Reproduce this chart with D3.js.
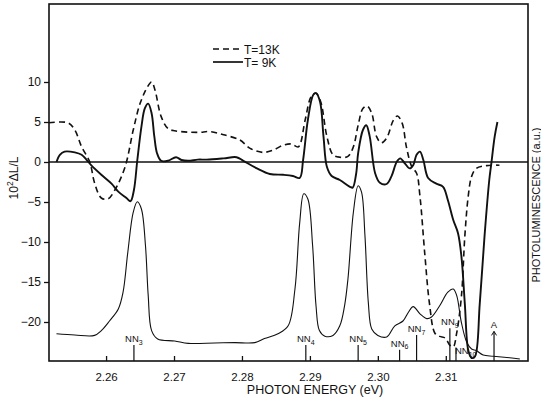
<!DOCTYPE html>
<html>
<head>
<meta charset="utf-8">
<script src="https://cdnjs.cloudflare.com/ajax/libs/d3/7.8.5/d3.min.js"></script>
<style>
  body { margin: 0; background: #fff; }
  svg { font-family: "Liberation Sans", Arial, sans-serif; }
</style>
</head>
<body>
<svg></svg>
<script>
const width = 541, height = 400;

// T = 13K modulated spectrum, [energy eV, 10^2 dL/L]
const dashed13K = [
  [2.2516, 4.9], [2.2544, 4.9], [2.2554, 4.0], [2.2564, 1.9], [2.2576, 0.0], [2.2583, -2.6],
  [2.2593, -4.5], [2.2603, -4.6], [2.2613, -3.5], [2.2628, -0.6], [2.2640, 4.0], [2.2650, 7.3],
  [2.2661, 9.4], [2.2667, 10.0], [2.2672, 9.0], [2.2681, 5.7], [2.2691, 4.2], [2.2701, 3.9],
  [2.2735, 3.7], [2.2753, 3.8], [2.2773, 3.4], [2.2797, 2.75], [2.2812, 1.7], [2.2831, 1.2],
  [2.2846, 1.5], [2.2861, 2.1], [2.2873, 2.25], [2.2883, 1.9], [2.2893, 5.25], [2.2902, 8.2],
  [2.2909, 8.6], [2.2916, 7.5], [2.2925, 3.2], [2.2934, 0.9], [2.2944, 0.6], [2.2956, 0.7],
  [2.2964, 1.9], [2.2971, 4.6], [2.2978, 6.7], [2.2984, 7.0], [2.2991, 6.1], [2.2998, 3.2],
  [2.3005, 2.4], [2.3013, 3.0], [2.3023, 5.25], [2.3029, 5.75], [2.3036, 4.8], [2.3042, 1.9],
  [2.3050, -0.6], [2.3057, -1.4], [2.3062, -4.3], [2.3069, -11.4], [2.3076, -17.7], [2.3084, -21.4],
  [2.3091, -21.8], [2.3099, -22.0], [2.3106, -22.9], [2.3111, -23.1], [2.3116, -21.4], [2.3123, -16.8],
  [2.3128, -9.3], [2.3133, -4.3], [2.3138, -1.8], [2.3145, -0.8], [2.3160, -0.45], [2.3179, -0.4]
];

// T = 9K modulated spectrum
const solid9K = [
  [2.2527, 0.0], [2.2532, 0.9], [2.2539, 1.3], [2.2554, 1.2], [2.2564, 0.9], [2.2571, 0.3],
  [2.2578, -0.4], [2.2593, -1.6], [2.2608, -2.7], [2.2618, -3.7], [2.2630, -4.5], [2.2636, -4.9],
  [2.2641, -3.5], [2.2646, 0.25], [2.2652, 4.4], [2.2657, 6.7], [2.2662, 7.3], [2.2667, 6.1],
  [2.2671, 3.2], [2.2675, 1.1], [2.2681, 0.15], [2.2691, 0.15], [2.2703, 0.6], [2.2711, 0.25],
  [2.2721, 0.15], [2.2735, 0.3], [2.2748, 0.3], [2.2773, 0.45], [2.2792, 0.6], [2.2802, 0.15],
  [2.2822, -0.8], [2.2841, -1.5], [2.2861, -1.6], [2.2875, -1.75], [2.2885, -2.0], [2.2890, 0.25],
  [2.2897, 5.25], [2.2905, 8.4], [2.2909, 8.6], [2.2915, 7.5], [2.2920, 3.2], [2.2925, -0.6],
  [2.2932, -1.75], [2.2944, -2.25], [2.2959, -3.1], [2.2963, -3.2], [2.2968, -1.5], [2.2971, 1.1],
  [2.2978, 4.0], [2.2983, 4.6], [2.2988, 3.2], [2.2996, -1.4], [2.3003, -2.6], [2.3013, -2.75],
  [2.3020, -1.8], [2.3028, 0.05], [2.3033, 0.45], [2.3040, -0.2], [2.3047, -0.8], [2.3052, -0.4],
  [2.3057, 0.9], [2.3062, 1.3], [2.3067, 0.25], [2.3074, -2.0], [2.3086, -2.7], [2.3096, -3.1],
  [2.3103, -4.75], [2.3111, -7.25], [2.3118, -8.9], [2.3123, -11.8], [2.3128, -17.7], [2.3133, -23.5],
  [2.3138, -24.5], [2.3143, -24.3], [2.3150, -17.7], [2.3157, -9.3], [2.3164, -2.25], [2.3167, -0.2],
  [2.3172, 3.2], [2.3176, 5.0]
];

// photoluminescence, arbitrary units (0 = bottom of frame)
const photolum = [
  [2.2527, 3.4], [2.2554, 3.25], [2.2583, 3.2], [2.2593, 3.8], [2.2605, 5.0], [2.2618, 6.5],
  [2.2625, 8.6], [2.2632, 13.6], [2.2640, 18.6], [2.2646, 19.9], [2.2652, 19.0], [2.2658, 14.4],
  [2.2662, 8.2], [2.2667, 3.8], [2.2676, 2.75], [2.2701, 2.5], [2.2721, 2.2], [2.2760, 2.25],
  [2.2789, 2.3], [2.2819, 2.3], [2.2833, 2.8], [2.2853, 3.4], [2.2868, 4.4], [2.2878, 9.0],
  [2.2885, 17.3], [2.2891, 20.9], [2.2897, 20.25], [2.2904, 14.4], [2.2909, 6.9], [2.2914, 3.8],
  [2.2922, 3.1], [2.2934, 3.2], [2.2944, 4.4], [2.2951, 6.9], [2.2956, 10.25], [2.2964, 18.6],
  [2.2971, 21.9], [2.2976, 21.1], [2.2981, 15.7], [2.2986, 7.3], [2.2991, 4.0], [2.3000, 3.2],
  [2.3013, 3.0], [2.3025, 4.4], [2.3037, 5.0], [2.3045, 6.1], [2.3052, 6.8], [2.3062, 5.9],
  [2.3072, 5.3], [2.3079, 5.5], [2.3091, 6.9], [2.3103, 8.6], [2.3111, 9.0], [2.3116, 8.2],
  [2.3123, 4.8], [2.3131, 2.3], [2.3138, 1.5], [2.3145, 1.3], [2.3155, 0.75], [2.3170, 0.6],
  [2.3194, 0.4], [2.3209, 0.25]
];

// phonon replica markers: label, subscript, energy, height of the stick (a.u.)
const markers = [
  ["NN", "3", 2.2641, 2.0], ["NN", "4", 2.2894, 2.0], ["NN", "5", 2.2971, 2.0],
  ["NN", "6", 2.3032, 1.4], ["NN", "7", 2.3057, 3.25], ["NN", "9", 2.3106, 4.1],
  ["NN", "10", 2.3115, 1.7], ["A", "", 2.3171, 3.7]
];

const xTicks = [2.26, 2.27, 2.28, 2.29, 2.30, 2.31];
const yTicks = [10, 5, 0, -5, -10, -15, -20];
const legendItems = [["T=13K", "6,4"], ["T= 9K", null]];

const svg = d3.select("svg").attr("width", width).attr("height", height);

const mLeft = 49, mRight = 528, mTop = 4, mBottom = 361;

const x = d3.scaleLinear().domain([2.2516, 2.3221]).range([mLeft, mRight]);
const y = d3.scaleLinear().domain([-24.875, 19.75]).range([mBottom, mTop]);
const yPL = d3.scaleLinear().domain([0, 44.625]).range([mBottom, mTop]);

// frame
svg.append("rect")
  .attr("x", mLeft).attr("y", mTop)
  .attr("width", mRight - mLeft).attr("height", mBottom - mTop)
  .attr("fill", "none").attr("stroke", "#111").attr("stroke-width", 1.6);

// bottom axis, ticks point inward
const xAxis = svg.append("g")
  .attr("transform", `translate(0,${mBottom})`)
  .call(d3.axisBottom(x).tickValues(xTicks).tickSizeInner(-5).tickSizeOuter(0).tickFormat(d3.format(".2f")));
xAxis.select(".domain").remove();
xAxis.selectAll("line").attr("stroke", "#111").attr("stroke-width", 1.3);
xAxis.selectAll("text").attr("y", 12).attr("font-size", 11.5).attr("fill", "#111")
  .attr("font-family", "Liberation Sans, Arial, sans-serif");

// left axis, ticks outward
const yAxis = svg.append("g")
  .attr("transform", `translate(${mLeft},0)`)
  .call(d3.axisLeft(y).tickValues(yTicks).tickSize(5).tickFormat(d => d < 0 ? "\u2212" + Math.abs(d) : d));
yAxis.select(".domain").remove();
yAxis.selectAll("line").attr("stroke", "#111").attr("stroke-width", 1.3);
yAxis.selectAll("text").attr("font-size", 12).attr("fill", "#111")
  .attr("font-family", "Liberation Sans, Arial, sans-serif");

// zero line
svg.append("line")
  .attr("x1", mLeft).attr("x2", mRight)
  .attr("y1", y(0)).attr("y2", y(0))
  .attr("stroke", "#111").attr("stroke-width", 1.3);

const line = d3.line().x(d => x(d[0])).y(d => y(d[1])).curve(d3.curveCatmullRom.alpha(0.5));
const linePL = d3.line().x(d => x(d[0])).y(d => yPL(d[1])).curve(d3.curveCatmullRom.alpha(0.5));

svg.append("path").datum(photolum)
  .attr("d", linePL).attr("fill", "none").attr("stroke", "#111").attr("stroke-width", 1.1);

svg.append("path").datum(dashed13K)
  .attr("d", line).attr("fill", "none").attr("stroke", "#111")
  .attr("stroke-width", 1.6).attr("stroke-dasharray", "6,4");

svg.append("path").datum(solid9K)
  .attr("d", line).attr("fill", "none").attr("stroke", "#111").attr("stroke-width", 1.9);

// markers
const mk = svg.append("g").selectAll("g").data(markers).enter().append("g");
mk.append("line")
  .attr("x1", d => x(d[2])).attr("x2", d => x(d[2]))
  .attr("y1", mBottom).attr("y2", d => yPL(d[3]))
  .attr("stroke", "#111").attr("stroke-width", 1.2);
mk.filter(d => d[0] === "A").append("path")
  .attr("d", d => `M${x(d[2]) - 2.5},${yPL(d[3]) + 4}L${x(d[2])},${yPL(d[3])}L${x(d[2]) + 2.5},${yPL(d[3]) + 4}`)
  .attr("fill", "none").attr("stroke", "#111").attr("stroke-width", 1);
const mkText = mk.append("text")
  .attr("x", d => d[1] === "10" ? x(d[2]) - 1 : x(d[2]))
  .attr("y", d => d[1] === "10" ? yPL(d[3]) + 7 : yPL(d[3]) - 3)
  .attr("text-anchor", d => d[1] === "10" ? "start" : "middle")
  .attr("font-size", 9.5).attr("fill", "#111");
mkText.append("tspan").text(d => d[0]);
mkText.append("tspan").attr("dy", 2.5).attr("font-size", 7).text(d => d[1]);

// legend
const lg = svg.append("g").selectAll("g").data(legendItems).enter().append("g")
  .attr("transform", (d, i) => `translate(213,${49 + i * 13})`);
lg.append("line").attr("x1", 0).attr("x2", 30)
  .attr("stroke", "#111").attr("stroke-width", d => d[1] ? 1.4 : 1.7)
  .attr("stroke-dasharray", d => d[1]);
lg.append("text").attr("x", 31).attr("y", 4.5).attr("font-size", 12).attr("fill", "#111").text(d => d[0]);

// axis titles
svg.append("text")
  .attr("x", 315).attr("y", 394).attr("text-anchor", "middle")
  .attr("font-size", 12.5).attr("fill", "#111").text("PHOTON ENERGY (eV)");

const yt = svg.append("text")
  .attr("transform", "translate(18,178) rotate(-90)")
  .attr("text-anchor", "middle").attr("font-size", 12).attr("fill", "#111");
yt.append("tspan").text("10");
yt.append("tspan").attr("dy", -5).attr("font-size", 8.5).text("2");
yt.append("tspan").attr("dy", 5).text("\u0394L/L");

svg.append("text")
  .attr("transform", "translate(540,205) rotate(-90)")
  .attr("text-anchor", "middle").attr("font-size", 11).attr("fill", "#111")
  .text("PHOTOLUMINESCENCE (a.u.)");
</script>
</body>
</html>
